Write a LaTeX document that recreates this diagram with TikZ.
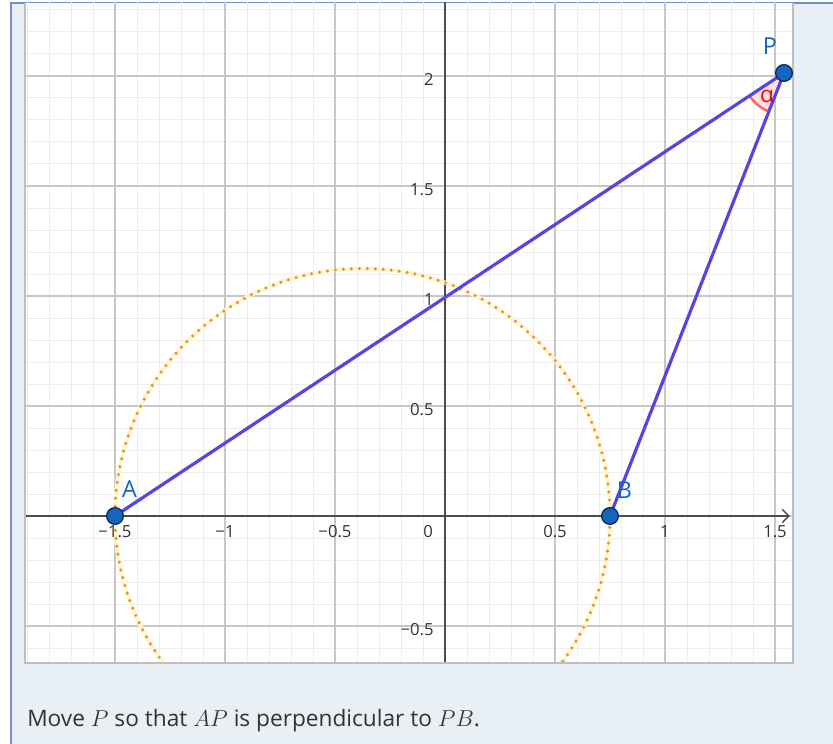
\documentclass[tikz,border=0pt]{standalone}
\usepackage{fontspec}
\setmainfont{Open Sans}
\usetikzlibrary{arrows.meta}
\definecolor{bgblue}{RGB}{232,240,246}
\definecolor{frameblue}{RGB}{110,145,205}
\definecolor{segblue}{RGB}{85,70,225}
\definecolor{ptfill}{RGB}{21,101,192}
\definecolor{ptdraw}{RGB}{15,40,90}
\definecolor{lblblue}{RGB}{21,101,192}
\definecolor{circorange}{RGB}{220,150,60}
\definecolor{circhalo}{RGB}{255,246,205}
\definecolor{txtgray}{RGB}{50,50,50}
\begin{document}
\begin{tikzpicture}[x=165pt,y=165pt,
  minorgrid/.style={draw=black!7, line width=0.7pt},
  majorgrid/.style={draw=black!22, line width=0.9pt},
  axisline/.style={draw=black!70, line width=1.1pt},
  seg/.style={draw=segblue, line width=2.4pt},
  ptdot/.style={circle, inner sep=0pt, minimum size=12.5pt, fill=ptfill, draw=ptdraw, line width=1pt},
  ptlabel/.style={text=lblblue, font=\fontsize{17.5}{20}\selectfont},
  xtick/.style={font=\fontsize{12.5}{14}\selectfont, text=black!80},
  ytick/.style={font=\fontsize{12.5}{14}\selectfont, text=black!80, anchor=east}]
\useasboundingbox (-2.02273,-1.03636) rectangle (1.76364,2.34545);
% page background and frame
\fill[bgblue] (-1.97273,-1.03636) rectangle (1.76364,2.33182);
\draw[frameblue, line width=1.2pt] (-1.97273,-1.03636) -- (-1.97273,2.33182) -- (1.76364,2.33182);
% graph panel
\fill[white] (-1.90909,-0.66818) rectangle (1.58182,2.33182);
\coordinate (A) at (-1.5,0);
\coordinate (B) at (0.75,0);
\coordinate (P) at (1.5409,2.0136);
\coordinate (M) at (-0.375,0);
\begin{scope}
\clip (-1.90909,-0.66818) rectangle (1.58182,2.33182);
\draw[minorgrid] (-2,-0.8) grid[step=0.1] (1.7,2.4);
\draw[majorgrid] (-2,-1) grid[step=0.5] (2,2.5);
\draw[axisline] (0,-0.7) -- (0,2.4);
\draw[axisline, -{Straight Barb[length=5pt,width=10pt,line width=1.1pt]}] (-1.95,0) -- (1.568,0);
% circle with diameter AB
\draw[circhalo, line width=3pt] (M) circle[radius=1.125];
\draw[circorange, line width=2.6pt, line cap=round, dash pattern=on 0pt off 6pt] (M) circle[radius=1.125];
\end{scope}
\draw[black!25, line width=0.8pt] (-1.90909,2.33182) -- (-1.90909,-0.66818) -- (1.58182,-0.66818) -- (1.58182,2.33182);
% angle alpha at P
\fill[red!12] (P) -- ([shift={(213.5:31pt)}]P) arc[start angle=213.5, end angle=248.5, radius=31pt] -- cycle;
\draw[red!60!white, line width=1.8pt] ([shift={(213.5:31pt)}]P) arc[start angle=213.5, end angle=248.5, radius=31pt];
% segments
\draw[seg] (A) -- (P);
\draw[seg] (P) -- (B);
% points
\node[ptdot] (nA) at (A) {};
\node[ptdot] (nB) at (B) {};
\node[ptdot] (nP) at (P) {};
\node[ptlabel] (lA) at (-1.434,0.12) {A};
\node[ptlabel] (lB) at (0.816,0.116) {B};
\node[ptlabel] (lP) at (1.477,2.134) {P};
\node[text=red, font=\fontsize{17}{19}\selectfont] (lalpha) at (1.4636,1.905) {α};
% tick labels
\node[xtick] (tx1) at (-1.5,-0.0727) {−1.5};
\node[xtick] (tx2) at (-1,-0.0727) {−1};
\node[xtick] (tx3) at (-0.5,-0.0727) {−0.5};
\node[xtick] (tx4) at (-0.077,-0.0727) {0};
\node[xtick] (tx5) at (0.5,-0.0727) {0.5};
\node[xtick] (tx6) at (1,-0.0727) {1};
\node[xtick] (tx7) at (1.5,-0.0727) {1.5};
\node[ytick] (ty1) at (-0.03,1.985) {2};
\node[ytick] (ty2) at (-0.03,1.485) {1.5};
\node[ytick] (ty3) at (-0.03,0.985) {1};
\node[ytick] (ty4) at (-0.03,0.485) {0.5};
\node[ytick] (ty5) at (-0.03,-0.515) {−0.5};
% instruction text
\node[anchor=base west, inner sep=0pt, text=txtgray, font=\fontsize{17}{20}\selectfont] (txt) at (-1.9,-0.959) {Move $P$ so that $AP$ is perpendicular to $PB$.};
\end{tikzpicture}
\end{document}
